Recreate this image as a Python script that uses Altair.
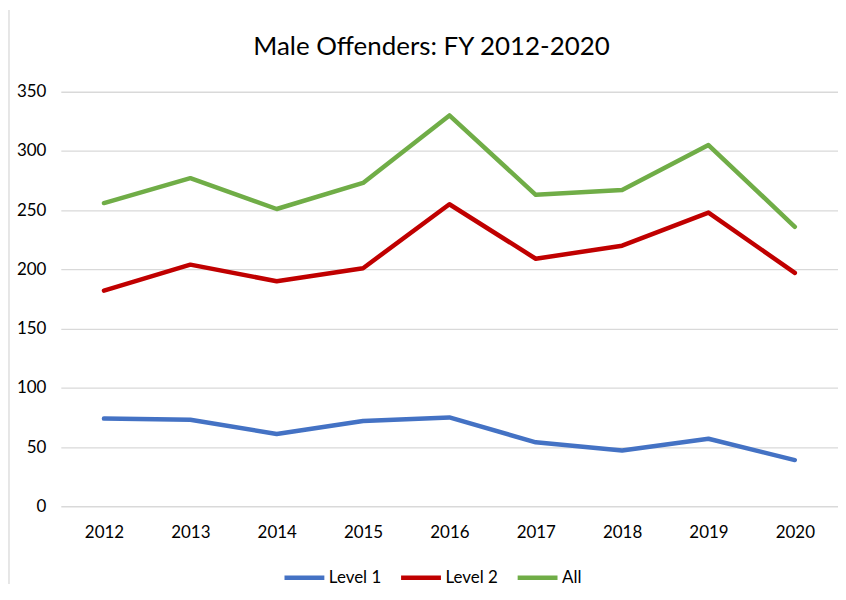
import altair as alt
import pandas as pd

years = ["2012", "2013", "2014", "2015", "2016", "2017", "2018", "2019", "2020"]
level1 = [74, 73, 61, 72, 75, 54, 47, 57, 39]
level2 = [182, 204, 190, 201, 255, 209, 220, 248, 197]
all_ = [256, 277, 251, 273, 330, 263, 267, 305, 236]
series_names = ["Level 1", "Level 2", "All"]
series_colors = ["#4472C4", "#C00000", "#70AD47"]
title_text = "Male Offenders: FY 2012-2020"

rows = []
for name, vals in zip(series_names, [level1, level2, all_]):
    for y, v in zip(years, vals):
        rows.append({"Year": y, "Value": v, "Series": name})
df = pd.DataFrame(rows)

FONT = "Lato"

lines = alt.Chart(df).mark_line(strokeWidth=4.5, strokeCap="round", strokeJoin="round").encode(
    x=alt.X("Year:O", sort=years,
            scale=alt.Scale(type="point", padding=0.5),
            axis=alt.Axis(title=None, labelAngle=0, domain=False, ticks=False,
                          labelFontSize=17, labelColor="#000000", labelFont=FONT,
                          labelPadding=18, grid=False)),
    y=alt.Y("Value:Q", scale=alt.Scale(domain=[0, 350], nice=False),
            axis=alt.Axis(title=None, values=[0, 50, 100, 150, 200, 250, 300, 350],
                          domain=False, ticks=False, labelFontSize=17,
                          labelColor="#000000", labelFont=FONT, labelPadding=15,
                          gridColor="#D9D9D9", gridWidth=1.3)),
    color=alt.Color("Series:N", sort=series_names,
                    scale=alt.Scale(domain=series_names, range=series_colors),
                    legend=alt.Legend(title=None, orient="none", direction="horizontal",
                                      legendX=222, legendY=465,
                                      symbolType="stroke", symbolSize=1600,
                                      symbolStrokeWidth=4.5, labelFontSize=17,
                                      labelFont=FONT, labelColor="#000000",
                                      columnPadding=10, labelOffset=2)),
)

border = alt.Chart(pd.DataFrame({"a": [0]})).mark_rule(color="#D9D9D9", strokeWidth=1.3).encode(
    x=alt.value(-52), y=alt.value(-82), y2=alt.value(494)
)

title = alt.Chart(pd.DataFrame({"t": [title_text]})).mark_text(
    fontSize=26, font=FONT, color="#000000", align="center", baseline="middle"
).encode(text="t:N", x=alt.value(372), y=alt.value(-45))

chart = alt.layer(lines, border, title).properties(
    width=780, height=416,
    padding={"left": 0, "top": 0, "right": 0, "bottom": 0},
).configure_view(stroke=None)

chart.save("out.html", embed_options={"renderer": "svg", "actions": False})
